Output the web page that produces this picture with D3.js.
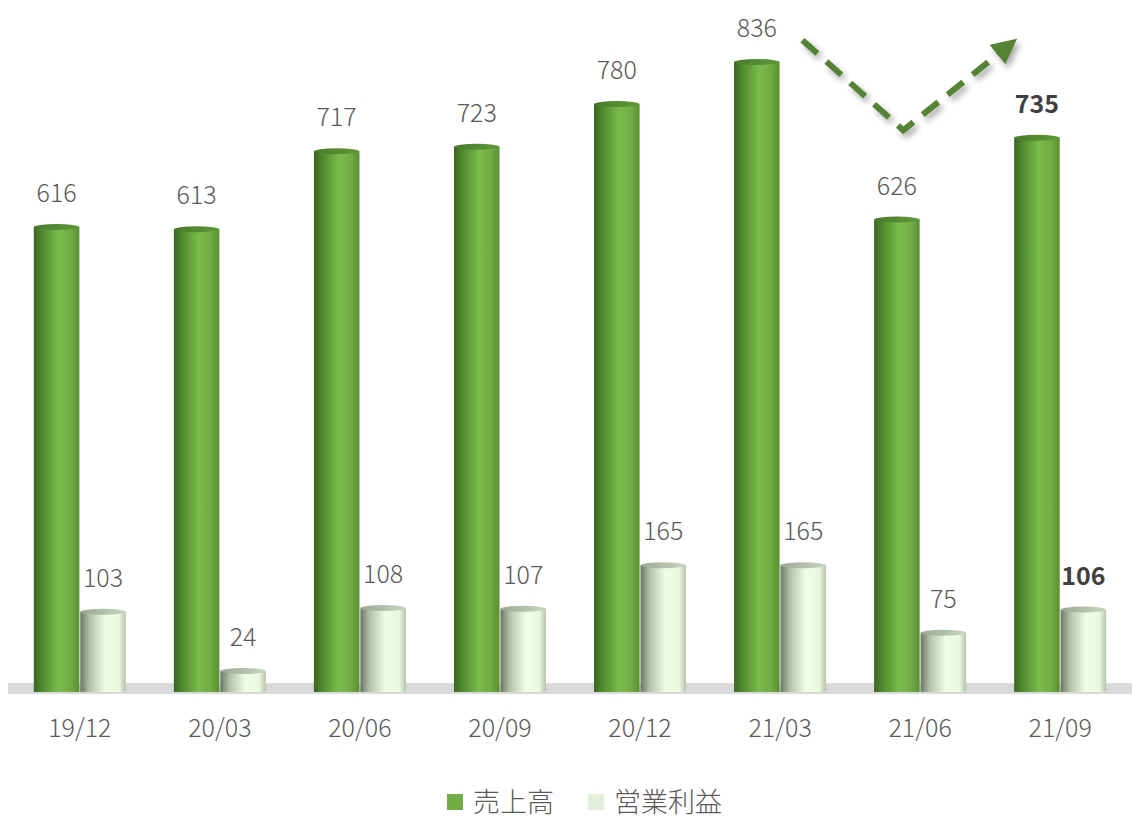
<!DOCTYPE html>
<html>
<head>
<meta charset="utf-8">
<script src="https://cdn.jsdelivr.net/npm/d3@7"></script>
<style>
  body { margin: 0; background: #fff; }
  svg { display: block; font-family: "Noto Sans CJK JP", "Noto Sans", sans-serif; }
</style>
</head>
<body>
<svg id="chart" width="1134" height="822"></svg>
<script>
const categories = ["19/12", "20/03", "20/06", "20/09", "20/12", "21/03", "21/06", "21/09"];
const sales = [616, 613, 717, 723, 780, 836, 626, 735];
const profit = [103, 24, 108, 107, 165, 165, 75, 106];
const seriesNames = ["売上高", "営業利益"];
// trend arrow: [category position, value] — down from 21/03 to 21/06, then up
const trendPoints = [[5.16, 865], [5.88, 745], [6.58, 850]];

const svg = d3.select("#chart");
const width = 1134, height = 822;
const baseY = 689;

const x = d3.scaleBand().domain(categories).range([10, 1130]).paddingInner(0.343).paddingOuter(0.17);
const sub = d3.scaleBand().domain([0, 1]).range([0, x.bandwidth()]).paddingInner(0.02);
const y = d3.scaleLinear().domain([0, 836]).range([baseY, 62]);

const defs = svg.append("defs");

function hGrad(id, stops) {
    const g = defs.append("linearGradient").attr("id", id)
        .attr("x1", "0%").attr("x2", "100%").attr("y1", "0%").attr("y2", "0%");
    stops.forEach(s => g.append("stop").attr("offset", s[0]).attr("stop-color", s[1]));
}
hGrad("gSales", [["0%", "#3b6421"], ["18%", "#4f8a2e"], ["55%", "#7bbb4b"], ["80%", "#73ad45"], ["100%", "#5b8f34"]]);
hGrad("gProfit", [["0%", "#6a7563"], ["20%", "#b3c1a8"], ["55%", "#eefde4"], ["85%", "#eaf8e0"], ["100%", "#b7c4ad"]]);
hGrad("gSalesTop", [["0%", "#4a7a2c"], ["100%", "#5f9a3a"]]);
hGrad("gProfitTop", [["0%", "#9aa893"], ["100%", "#c9d6bf"]]);

const shadow = defs.append("filter").attr("id", "shadow").attr("x", "-20%").attr("y", "-20%").attr("width", "140%").attr("height", "140%");
shadow.append("feDropShadow").attr("dx", 3).attr("dy", 4).attr("stdDeviation", 3).attr("flood-color", "#000").attr("flood-opacity", 0.35);

defs.append("marker").attr("id", "arrowHead")
    .attr("viewBox", "0 0 10 10").attr("refX", 2).attr("refY", 5)
    .attr("markerWidth", 4.2).attr("markerHeight", 4.2).attr("orient", "auto")
    .append("path").attr("d", "M0,0 L10,5 L0,10 Z").attr("fill", "#548235");

// floor
svg.append("rect").attr("x", 8).attr("y", baseY - 6).attr("width", 1124).attr("height", 11)
    .attr("fill", "#d9d9d9");

const series = [
    { values: sales, fill: "url(#gSales)", top: "url(#gSalesTop)" },
    { values: profit, fill: "url(#gProfit)", top: "url(#gProfitTop)" }
];

const ry = 3;
series.forEach((s, si) => {
    const g = svg.append("g");
    const bw = sub.bandwidth();
    g.selectAll("rect").data(s.values).join("rect")
        .attr("x", (d, i) => x(categories[i]) + sub(si))
        .attr("y", d => y(d))
        .attr("width", bw)
        .attr("height", d => baseY - y(d) + ry)
        .attr("fill", s.fill);
    g.selectAll("ellipse").data(s.values).join("ellipse")
        .attr("cx", (d, i) => x(categories[i]) + sub(si) + bw / 2)
        .attr("cy", d => y(d))
        .attr("rx", bw / 2)
        .attr("ry", ry)
        .attr("fill", s.top);

    svg.append("g").selectAll("text").data(s.values).join("text")
        .attr("x", (d, i) => x(categories[i]) + sub(si) + bw / 2)
        .attr("y", d => y(d) - 25)
        .attr("text-anchor", "middle")
        .attr("font-size", 25)
        .attr("font-weight", (d, i) => i === categories.length - 1 ? 700 : 300)
        .attr("fill", (d, i) => i === categories.length - 1 ? "#404040" : "#595959")
        .attr("stroke", "#fff").attr("stroke-width", 4).attr("paint-order", "stroke")
        .text(d => d);
});

// category axis
const xAxis = svg.append("g").attr("transform", `translate(0,${baseY + 5})`)
    .call(d3.axisBottom(x).tickSize(0).tickPadding(25));
xAxis.select(".domain").remove();
xAxis.selectAll("text").attr("font-size", 25).attr("font-weight", 300).attr("fill", "#595959")
    .attr("font-family", "Noto Sans CJK JP, Noto Sans, sans-serif");

// trend arrow
const line = d3.line().x(d => x(categories[0]) + d[0] * x.step() + x.bandwidth() / 2).y(d => y(d[1]));
svg.append("path").datum(trendPoints)
    .attr("d", line)
    .attr("fill", "none").attr("stroke", "#548235").attr("stroke-width", 6)
    .attr("stroke-dasharray", "20,12")
    .attr("marker-end", "url(#arrowHead)")
    .attr("filter", "url(#shadow)");

// legend
const legendColors = ["#70ad47", "#e2efd9"];
const legend = svg.append("g").attr("transform", "translate(447,802)");
const itemX = [0, 141];
seriesNames.forEach((name, i) => {
    const it = legend.append("g").attr("transform", `translate(${itemX[i]},0)`);
    it.append("rect").attr("x", 0).attr("y", -8).attr("width", 16).attr("height", 16).attr("fill", legendColors[i]);
    it.append("text").attr("x", 26).attr("y", 0).attr("dy", "0.36em")
        .attr("font-size", 27).attr("font-weight", 300).attr("fill", "#595959").text(name);
});
</script>
</body>
</html>
